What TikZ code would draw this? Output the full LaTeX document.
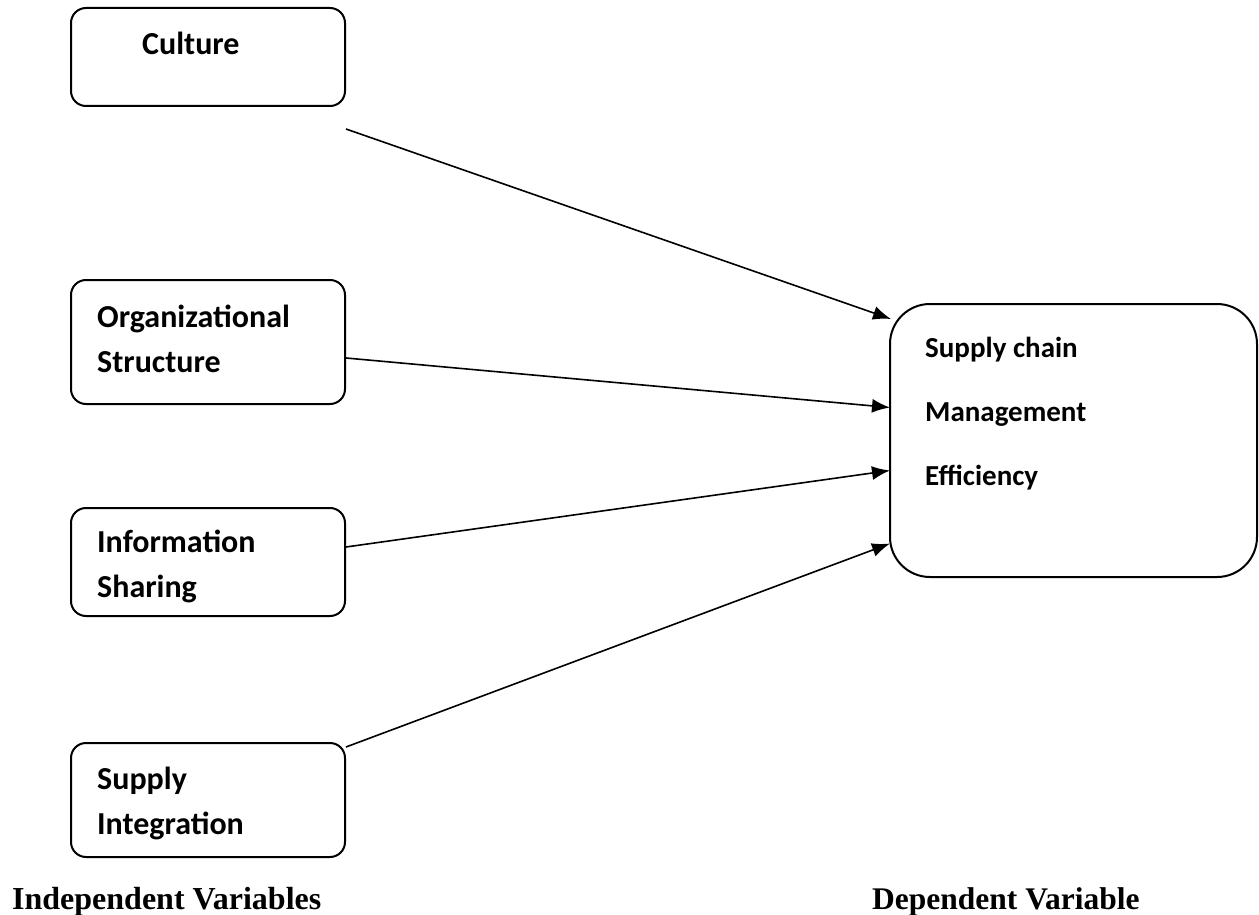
\documentclass[tikz,border=0pt]{standalone}
\usepackage{fontspec}
\setmainfont{Liberation Serif}
\newfontfamily\boxfont{Carlito}
\usetikzlibrary{arrows.meta}

\tikzset{
    varbox/.style={draw, line width=2pt, rounded corners=15pt, minimum width=274pt, inner sep=0pt},
    boxtext/.style={anchor=base west, align=left, inner sep=0pt, font=\boxfont\bfseries\fontsize{32}{45}\selectfont},
    arr/.style={line width=1.6pt, -{Latex[length=18pt, width=14pt]}},
}

\begin{document}
\begin{tikzpicture}[x=1pt, y=-1pt]
    \useasboundingbox (0, 0) rectangle (1259, 915);

    % Independent variables
    \node[varbox, minimum height=98pt] (culture) at (208, 57) {};
    \node[varbox, minimum height=124pt] (org) at (208, 342) {};
    \node[varbox, minimum height=108pt] (info) at (208, 562) {};
    \node[varbox, minimum height=114pt] (integ) at (208, 800) {};

    % (base = last line)
    \node[boxtext] (culturetxt) at (142, 55) {Culture};
    \node[boxtext] (orgtxt) at (97, 372) {Organizational\\Structure};
    \node[boxtext] (infotxt) at (97, 597) {Information\\Sharing};
    \node[boxtext] (integtxt) at (97, 834) {Supply\\Integration};

    % Dependent variable
    \node[draw, line width=2pt, rounded corners=40pt, minimum width=367pt, minimum height=273pt, inner sep=0pt] (sce) at (1073.5, 440.5) {};
    \node[boxtext, font=\boxfont\bfseries\fontsize{29}{64}\selectfont] (scetxt) at (925, 485) {Supply chain\\Management\\Efficiency};

    % Arrows
    \draw[arr] ([yshift=-22pt]culture.south east) -- ([xshift=2pt, yshift=-16pt]sce.north west);
    \draw[arr] ([yshift=-16pt]org.east) -- ([xshift=1pt, yshift=33pt]sce.west);
    \draw[arr] ([yshift=15pt]info.east) -- ([xshift=1pt, yshift=-30pt]sce.west);
    \draw[arr] ([yshift=-5pt]integ.north east) -- ([xshift=1pt, yshift=-103pt]sce.west);

    % Captions
    \node[anchor=base west, inner sep=0pt, font=\bfseries\fontsize{32}{38}\selectfont] (indep) at (12, 909) {Independent Variables};
    \node[anchor=base west, inner sep=0pt, font=\bfseries\fontsize{31.5}{38}\selectfont] (dep) at (872, 909) {Dependent Variable};
\end{tikzpicture}
\end{document}
